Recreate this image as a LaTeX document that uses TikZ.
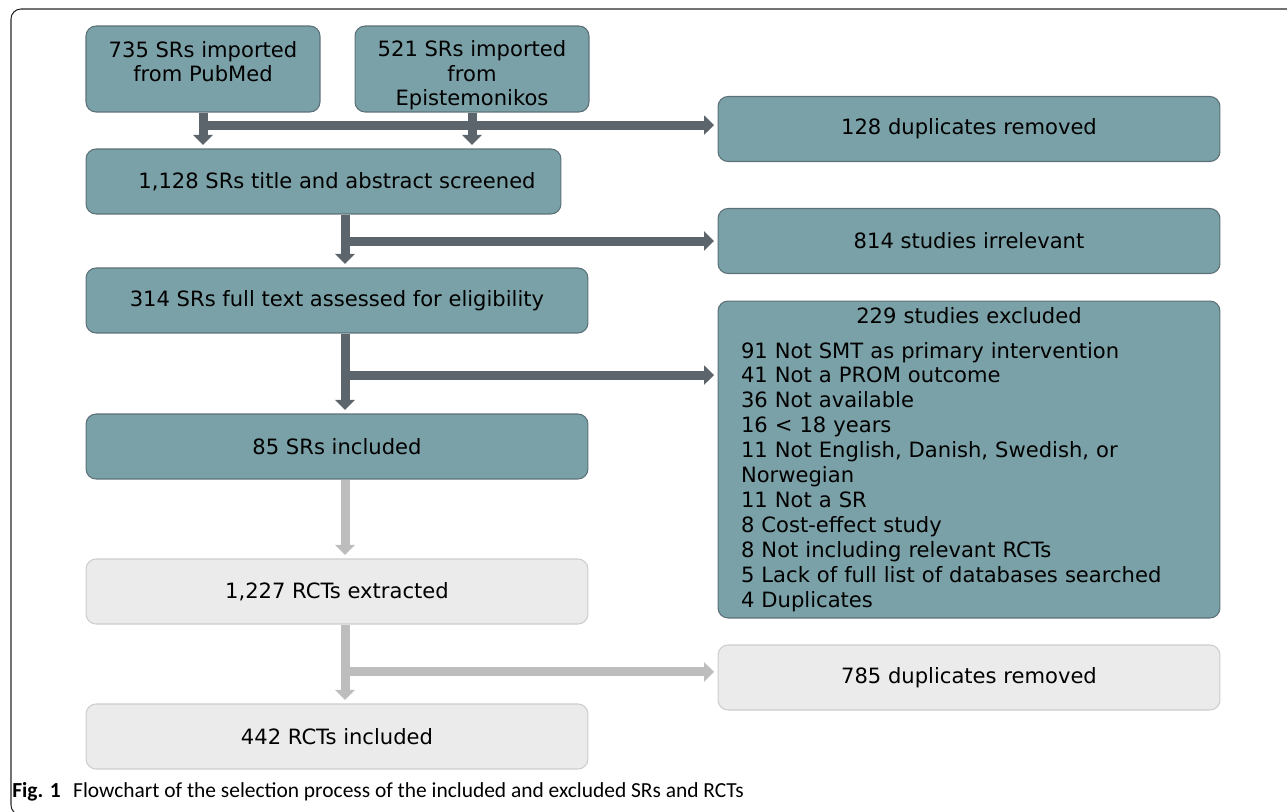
\documentclass[tikz,border=0pt]{standalone}
\usepackage{fontspec}
\setmainfont{DejaVu Sans}
\newfontfamily\capfont{Carlito}
\usetikzlibrary{arrows.meta, positioning, calc}

\definecolor{srfill}{RGB}{122,161,167}
\definecolor{sredge}{RGB}{92,112,120}
\definecolor{rctfill}{RGB}{235,235,235}
\definecolor{rctedge}{RGB}{205,205,205}
\definecolor{arrdark}{RGB}{92,100,108}
\definecolor{arrlight}{RGB}{189,189,189}

\begin{document}
\begin{tikzpicture}[x=0.02cm, y=-0.02cm,
          srbox/.style={rectangle, rounded corners=0.2cm, draw=sredge, fill=srfill, line width=0.6pt, minimum width=10.04cm, minimum height=1.3cm, inner sep=0pt, align=center, font=\fontsize{12}{14.2}\selectfont},
          rctbox/.style={srbox, draw=rctedge, fill=rctfill},
          srcbox/.style={srbox, minimum width=4.68cm, minimum height=1.72cm, text depth=0.1cm},
          darrow/.style={-{Triangle[width=0.38cm, length=0.2cm]}, line width=0.18cm, color=arrdark, shorten >=0.07cm},
          larrow/.style={darrow, color=arrlight}]

        \useasboundingbox (0,0) rectangle (1287,811);
        \draw [line width=0.6pt, rounded corners=0.2cm, black!85] (11,9) rectangle (1310,815);

        % sources
        \node [srcbox, text height=0.62cm] (pubmed) at (203,69) {735 SRs imported\\from PubMed};
        \node [srcbox, text height=1.58cm] (episte) at (472,69) {521 SRs imported\\from\\Epistemonikos};

        % main column
        \node [srbox, minimum width=9.5cm] (screened) at (323.5,181.5) {\hspace*{0.54cm}1,128 SRs title and abstract screened};
        \node [srbox] (fulltext) at (337,300.5) {314 SRs full text assessed for eligibility};
        \node [srbox] (srs_incl) at (337,446.5) {85 SRs included};
        \node [rctbox] (rct_extr) at (337,591.5) {1,227 RCTs extracted};
        \node [rctbox] (rct_incl) at (337,736.5) {442 RCTs included};

        % side column
        \node [srbox] (dup_a) at (969,129) {128 duplicates removed};
        \node [srbox] (irrelevant) at (969,241) {814 studies irrelevant};
        \node [srbox, minimum height=6.34cm, text width=9.12cm, align=left] (excluded) at (969,459.5)
          {\makebox[\linewidth]{229 studies excluded}\\[0.2cm]
           91 Not SMT as primary intervention\\
           41 Not a PROM outcome\\
           36 Not available\\
           16 < 18 years\\
           11 Not English, Danish, Swedish, or\\
           Norwegian\\
           11 Not a SR\\
           8 Cost-effect study\\
           8 Not including relevant RCTs\\
           5 Lack of full list of databases searched\\
           4 Duplicates};
        \node [rctbox] (dup_b) at (969,677.5) {785 duplicates removed};

        % connectors
        \coordinate (spine) at (345,0);
        \coordinate (j1) at ($(pubmed.south)!0.35!(pubmed.south |- screened.north)$);
        \coordinate (j2) at ($(screened.south -| spine)!0.5!(fulltext.north -| spine)$);
        \coordinate (j3) at ($(fulltext.south -| spine)!0.52!(srs_incl.north -| spine)$);
        \coordinate (j4) at ($(rct_extr.south -| spine)!0.6!(rct_incl.north -| spine)$);

        \draw [darrow] (pubmed.south) -- (pubmed.south |- screened.north);
        \draw [darrow] (episte.south) -- (episte.south |- screened.north);
        \draw [darrow] (j1) -- (j1 -| dup_a.west);

        \draw [darrow] (screened.south -| spine) -- (fulltext.north -| spine);
        \draw [darrow] (j2) -- (j2 -| irrelevant.west);

        \draw [darrow] (fulltext.south -| spine) -- (srs_incl.north -| spine);
        \draw [darrow] (j3) -- (j3 -| excluded.west);

        \draw [larrow] (srs_incl.south -| spine) -- (rct_extr.north -| spine);
        \draw [larrow] (rct_extr.south -| spine) -- (rct_incl.north -| spine);
        \draw [larrow] (j4) -- (j4 -| dup_b.west);

        % caption
        \node [anchor=base west, inner sep=0pt, font=\capfont\fontsize{12.2}{14}\selectfont] (caption) at (12,797)
          {\textbf{Fig. 1}\hspace{0.25cm}Flowchart of the selection process of the included and excluded SRs and RCTs};
      \end{tikzpicture}
\end{document}
